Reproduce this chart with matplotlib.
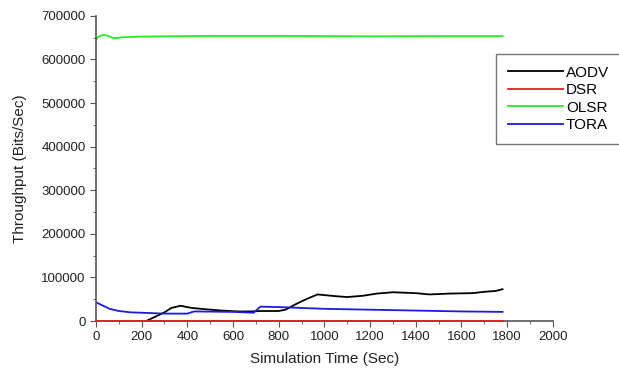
import matplotlib.pyplot as plt
from matplotlib.ticker import MultipleLocator

plt.rcParams["font.family"] = ["Liberation Sans", "DejaVu Sans"]

# data
aodv_t = [220, 260, 300, 330, 370, 420, 480, 550, 620, 680, 720, 800, 830, 880, 920, 970,
          1050, 1100, 1170, 1230, 1300, 1400, 1460, 1550, 1650, 1700, 1750, 1780]
aodv_v = [0, 10000, 20000, 30000, 35000, 30000, 27000, 24000, 22000, 22000, 23000, 23000,
          26000, 40000, 50000, 61000, 57000, 55000, 58000, 63000, 66000, 64000, 61000,
          63000, 64000, 67000, 69000, 73000]

dsr_t = [0, 1780]
dsr_v = [0, 0]

olsr_t = [0, 10, 30, 50, 70, 90, 120, 150, 200, 300, 500, 800, 1200, 1500, 1780]
olsr_v = [645000, 652000, 656000, 655000, 650000, 649000, 651000, 651500, 652500, 653000,
          654000, 654000, 653000, 653500, 653500]

tora_t = [0, 20, 60, 100, 150, 250, 300, 400, 430, 600, 690, 720, 800, 900, 1000, 1200,
          1400, 1600, 1780]
tora_v = [43000, 38000, 28000, 23000, 20000, 18000, 17000, 17000, 22000, 21000, 19000,
          33000, 32000, 30000, 28000, 26000, 24000, 22000, 21000]

fig = plt.figure(figsize=(6.19, 3.69), dpi=100)
ax = fig.add_axes([0.155, 0.130, 0.738, 0.827])

ax.plot(aodv_t, aodv_v, color="black", lw=1.3, label="AODV")
ax.plot(dsr_t, dsr_v, color="#e02020", lw=1.3, label="DSR", zorder=4, clip_on=False)
ax.plot(olsr_t, olsr_v, color="#22ee22", lw=1.3, label="OLSR")
ax.plot(tora_t, tora_v, color="#1a1ae0", lw=1.3, label="TORA")

ax.set_xlim(0, 2000)
ax.set_ylim(0, 700000)
ax.xaxis.set_major_locator(MultipleLocator(200))
ax.xaxis.set_minor_locator(MultipleLocator(100))
ax.yaxis.set_major_locator(MultipleLocator(100000))
ax.yaxis.set_minor_locator(MultipleLocator(50000))

for s in ["top", "right"]:
    ax.spines[s].set_visible(False)
for s in ["left", "bottom"]:
    ax.spines[s].set_color("#555555")
    ax.spines[s].set_linewidth(1.2)
ax.tick_params(which="both", colors="#555555", labelcolor="#222222", labelsize=9.5)
ax.tick_params(which="major", length=4)
ax.tick_params(which="minor", length=2.5)

ax.set_xlabel("Simulation Time (Sec)", fontsize=11, color="#222222", labelpad=6)
ax.set_ylabel("Throughput (Bits/Sec)", fontsize=11, color="#222222", labelpad=10)

fig.legend(loc="upper left", bbox_to_anchor=(0.801, 0.855), fontsize=11,
           frameon=True, fancybox=False, edgecolor="#555555", handlelength=3.6,
           borderpad=0.8, labelspacing=0.23, handletextpad=0.2, borderaxespad=0)

fig.savefig("out.png", dpi=100)
